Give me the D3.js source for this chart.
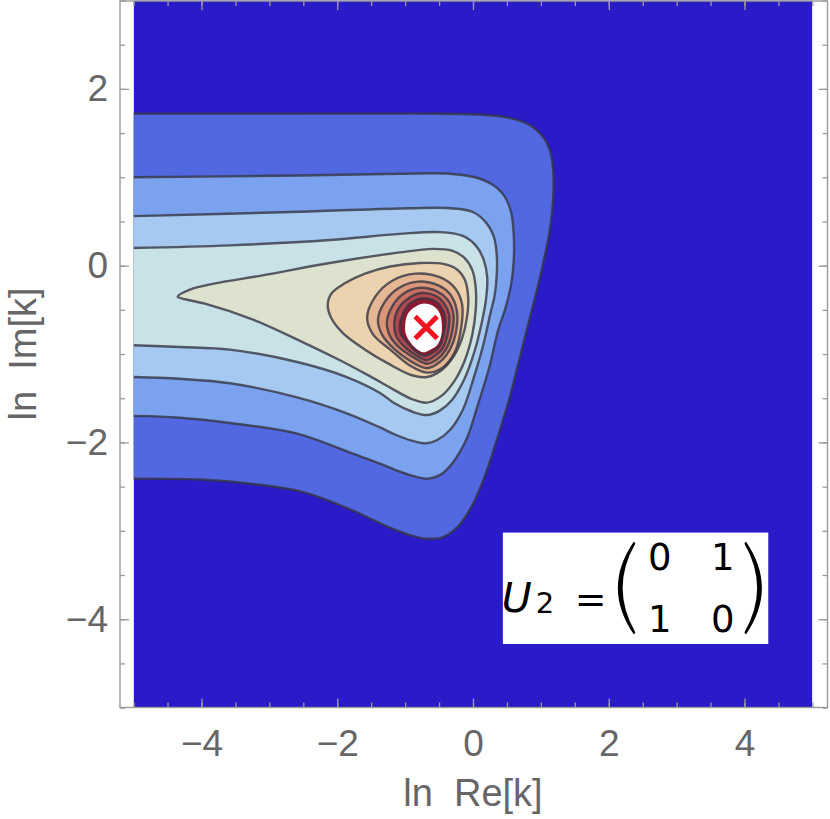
<!DOCTYPE html>
<html>
<head>
<meta charset="utf-8">
<script src="https://cdn.jsdelivr.net/npm/d3@7"></script>
<style>
  body { margin: 0; background: #fff; }
  svg { display: block; font-family: 'Liberation Sans', Arial, sans-serif; }
</style>
</head>
<body>
<svg id="chart" width="830" height="819"></svg>
<script>
// contour lines, in data units [ln Re[k], ln Im[k]]
// the four outer ones run off the left edge, the rest are closed loops
const level1 = [[-5, 1.72], [-2.55, 1.72], [-0.78, 1.72], [0.10, 1.71], [0.55, 1.67], [0.84, 1.59], [1.03, 1.46], [1.13, 1.31], [1.18, 1.09], [1.18, 0.75], [1.13, 0.40], [1.06, 0.12], [0.96, -0.22], [0.83, -0.61], [0.68, -1.07], [0.53, -1.52], [0.35, -1.97], [0.18, -2.37], [-0.01, -2.71], [-0.22, -2.95], [-0.44, -3.07], [-0.66, -3.09], [-0.88, -3.06], [-1.27, -2.95], [-1.77, -2.77], [-2.51, -2.56], [-3.24, -2.47], [-4.02, -2.42], [-5, -2.41]]
const level2 = [[-5, 1.00], [-2.55, 1.02], [-1.08, 1.04], [-0.34, 1.04], [0.03, 1.00], [0.28, 0.92], [0.46, 0.79], [0.56, 0.61], [0.60, 0.35], [0.60, 0.06], [0.56, -0.22], [0.47, -0.50], [0.37, -0.73], [0.24, -1.15], [0.07, -1.58], [-0.10, -1.97], [-0.31, -2.24], [-0.49, -2.37], [-0.66, -2.41], [-0.88, -2.38], [-1.15, -2.31], [-1.37, -2.24], [-1.86, -2.10], [-2.59, -1.90], [-3.58, -1.78], [-4.32, -1.72], [-5, -1.70]]
const level3 = [[-5, 0.56], [-2.55, 0.61], [-0.93, 0.65], [-0.34, 0.65], [-0.01, 0.61], [0.19, 0.49], [0.31, 0.32], [0.35, 0.12], [0.35, -0.10], [0.32, -0.33], [0.25, -0.56], [0.15, -0.90], [0.01, -1.27], [-0.15, -1.63], [-0.34, -1.86], [-0.52, -1.97], [-0.68, -2.01], [-0.90, -1.98], [-1.15, -1.91], [-1.37, -1.83], [-1.86, -1.67], [-2.59, -1.49], [-3.58, -1.33], [-4.32, -1.28], [-5, -1.26]]
const level4 = [[-5, 0.20], [-3.58, 0.23], [-2.11, 0.29], [-1.08, 0.36], [-0.49, 0.38], [-0.16, 0.34], [0.04, 0.23], [0.16, 0.06], [0.21, -0.14], [0.19, -0.39], [0.13, -0.64], [0.03, -0.95], [-0.12, -1.27], [-0.31, -1.52], [-0.49, -1.64], [-0.68, -1.69], [-0.90, -1.65], [-1.15, -1.56], [-1.37, -1.44], [-1.86, -1.26], [-2.59, -1.09], [-3.58, -0.95], [-4.32, -0.92], [-5, -0.90]]
const level5 = [[-4.35, -0.35], [-4.17, -0.27], [-3.80, -0.20], [-3.10, -0.11], [-2.11, 0.03], [-1.08, 0.15], [-0.59, 0.19], [-0.31, 0.17], [-0.13, 0.09], [-0.01, -0.05], [0.04, -0.25], [0.04, -0.50], [-0.01, -0.78], [-0.12, -1.07], [-0.27, -1.30], [-0.46, -1.47], [-0.68, -1.55], [-0.90, -1.51], [-1.22, -1.38], [-1.52, -1.25], [-1.96, -1.07], [-2.55, -0.85], [-3.24, -0.61], [-3.95, -0.43], [-4.24, -0.38]]
const level6 = [[-2.14, -0.44], [-2.08, -0.31], [-1.89, -0.20], [-1.59, -0.09], [-1.22, -0.01], [-0.78, 0.03], [-0.44, 0.02], [-0.24, -0.04], [-0.12, -0.16], [-0.07, -0.37], [-0.09, -0.59], [-0.16, -0.82], [-0.28, -1.02], [-0.46, -1.18], [-0.68, -1.26], [-0.90, -1.24], [-1.22, -1.12], [-1.59, -0.95], [-1.92, -0.76], [-2.09, -0.59]]
const level7 = [[-1.56, -0.59], [-1.44, -0.35], [-1.19, -0.17], [-0.85, -0.09], [-0.49, -0.13], [-0.27, -0.25], [-0.16, -0.44], [-0.18, -0.73], [-0.27, -0.98], [-0.46, -1.16], [-0.68, -1.21], [-0.93, -1.13], [-1.22, -0.95], [-1.47, -0.78]]
const level8 = [[-1.40, -0.61], [-1.30, -0.41], [-1.11, -0.26], [-0.81, -0.18], [-0.52, -0.22], [-0.34, -0.32], [-0.24, -0.50], [-0.25, -0.75], [-0.34, -0.95], [-0.49, -1.09], [-0.68, -1.16], [-0.90, -1.09], [-1.15, -0.95], [-1.34, -0.78]]
const level9 = [[-1.27, -0.64], [-1.19, -0.46], [-1.03, -0.32], [-0.78, -0.25], [-0.53, -0.29], [-0.38, -0.38], [-0.29, -0.54], [-0.31, -0.76], [-0.40, -0.95], [-0.53, -1.06], [-0.68, -1.11], [-0.87, -1.04], [-1.08, -0.93], [-1.22, -0.80]]
const level10 = [[-1.16, -0.66], [-1.11, -0.50], [-0.97, -0.38], [-0.77, -0.31], [-0.55, -0.34], [-0.43, -0.42], [-0.35, -0.56], [-0.37, -0.76], [-0.44, -0.93], [-0.56, -1.02], [-0.69, -1.07], [-0.85, -1.01], [-1.02, -0.91], [-1.13, -0.80]]
const level11 = [[-1.08, -0.68], [-1.03, -0.54], [-0.93, -0.43], [-0.75, -0.37], [-0.56, -0.40], [-0.47, -0.47], [-0.41, -0.59], [-0.43, -0.77], [-0.49, -0.91], [-0.59, -0.98], [-0.71, -1.02], [-0.84, -0.97], [-0.97, -0.87], [-1.06, -0.78]]
// region above the plot range (left white)
const clipped = [[-1.00, -0.69], [-0.97, -0.56], [-0.88, -0.48], [-0.74, -0.43], [-0.58, -0.46], [-0.49, -0.54], [-0.46, -0.66], [-0.47, -0.80], [-0.53, -0.90], [-0.63, -0.95], [-0.74, -0.98], [-0.85, -0.93], [-0.94, -0.85], [-0.99, -0.77]]

const openLevels = [level1, level2, level3, level4]
const closedLevels = [level5, level6, level7, level8, level9, level10, level11]

// band colours, outside level1 first
const bandColors = ['#2a1bc8', '#5168e0', '#7ba2ef', '#a5c9f1', '#c8e2e7', '#dde2cf', '#ead3ae', '#e6b793', '#db9679', '#cb7265', '#b3474e', '#8e1a31']

const xMajor = [-4, -2, 0, 2, 4]
const yMajor = [-4, -2, 0, 2]
const xMinor = d3.range(-5, 5.01, 0.5)
const yMinor = d3.range(-5, 3.01, 0.5)

const marker = [-0.69, -0.70]
const legendBox = [[0.44, -3.02], [4.35, -4.28]]
const matrix = [['0', '1'], ['1', '0']]

const svg = d3.select('#chart')

const x = d3.scaleLinear().domain([-5, 5]).range([133.6, 812.4])
const y = d3.scaleLinear().domain([-5, 3]).range([707.6, 0.5])

const frame = { left: 120, right: 827.5, top: 1, bottom: 707.5 }
const frameColor = '#9a9a9a'
const labelColor = '#666666'

svg.append('clipPath').attr('id', 'plot-clip')
  .append('rect')
  .attr('x', x(-5)).attr('y', y(3))
  .attr('width', x(5) - x(-5)).attr('height', y(-5) - y(3))

const plot = svg.append('g').attr('clip-path', 'url(#plot-clip)')

plot.append('rect')
  .attr('x', x(-5)).attr('y', y(3))
  .attr('width', x(5) - x(-5)).attr('height', y(-5) - y(3))
  .attr('fill', bandColors[0])

const openLine = d3.line()
  .x(d => x(d[0])).y(d => y(d[1]))
  .curve(d3.curveCatmullRom.alpha(0.5))
const closedLine = d3.line()
  .x(d => x(d[0])).y(d => y(d[1]))
  .curve(d3.curveCatmullRomClosed.alpha(0.5))

// fills, outer to inner
openLevels.forEach((pts, i) => {
  const first = pts[0]
  plot.append('path')
    .attr('d', openLine(pts) + `H${x(-5.5)}V${y(first[1])}Z`)
    .attr('fill', bandColors[i + 1])
})
closedLevels.forEach((pts, i) => {
  plot.append('path')
    .attr('d', closedLine(pts))
    .attr('fill', bandColors[i + 1 + openLevels.length])
})
plot.append('path')
  .attr('d', closedLine(clipped))
  .attr('fill', '#ffffff')

// contour strokes
const strokes = plot.append('g')
  .attr('fill', 'none')
  .attr('stroke', '#363644')
  .attr('stroke-opacity', 0.8)
  .attr('stroke-width', 2.4)
openLevels.forEach(pts => strokes.append('path').attr('d', openLine(pts)))
closedLevels.forEach(pts => strokes.append('path').attr('d', closedLine(pts)))

// red cross at the marked point
const cx = x(marker[0]), cy = y(marker[1]), r = 11
plot.append('path')
  .attr('d', `M${cx - r},${cy - r}L${cx + r},${cy + r}M${cx - r},${cy + r}L${cx + r},${cy - r}`)
  .attr('stroke', '#f01420')
  .attr('stroke-width', 5)

// legend box with the matrix
const lx = x(legendBox[0][0]), ly = y(legendBox[0][1])
const lw = x(legendBox[1][0]) - lx, lh = y(legendBox[1][1]) - ly
const legend = svg.append('g')
  .attr('transform', `translate(${lx},${ly})`)
  .attr('font-family', "'DejaVu Sans', sans-serif")
legend.append('rect').attr('width', lw).attr('height', lh).attr('fill', '#fff')
legend.append('text').attr('x', -1).attr('y', 79)
  .attr('font-size', 41).attr('font-style', 'italic').text('U')
legend.append('text').attr('x', 33).attr('y', 80)
  .attr('font-size', 29).text('2')
legend.append('text').attr('x', 72).attr('y', 79)
  .attr('font-size', 38).text('=')
legend.append('path')
  .attr('d', 'M131,9Q99,55.5 131,102L132.5,100Q107,55.5 132.5,11Z')
legend.append('path')
  .attr('d', 'M243,9Q275,55.5 243,102L241.5,100Q267,55.5 241.5,11Z')
matrix.forEach((row, ri) => row.forEach((v, ci) => {
  legend.append('text')
    .attr('x', 157 + ci * 63).attr('y', 37 + ri * 62)
    .attr('text-anchor', 'middle')
    .attr('font-size', 37)
    .text(v)
}))

// frame
svg.append('rect')
  .attr('x', frame.left).attr('y', frame.top)
  .attr('width', frame.right - frame.left).attr('height', frame.bottom - frame.top)
  .attr('fill', 'none').attr('stroke', frameColor).attr('stroke-width', 1.4)

const fmt = d => d < 0 ? '\u2212' + (-d) : String(d)

function styleAxis(g) {
  g.select('.domain').remove()
  g.selectAll('.tick line').attr('stroke', frameColor).attr('stroke-width', 1.3)
  g.selectAll('.tick text').attr('fill', labelColor)
}

// minor ticks on all four sides
svg.append('g').attr('transform', `translate(0,${frame.bottom})`)
  .call(d3.axisBottom(x).tickValues(xMinor).tickSize(-5).tickFormat(''))
  .call(styleAxis)
svg.append('g').attr('transform', `translate(0,${frame.top})`)
  .call(d3.axisTop(x).tickValues(xMinor).tickSize(-5).tickFormat(''))
  .call(styleAxis)
svg.append('g').attr('transform', `translate(${frame.left},0)`)
  .call(d3.axisLeft(y).tickValues(yMinor).tickSize(-5).tickFormat(''))
  .call(styleAxis)
svg.append('g').attr('transform', `translate(${frame.right},0)`)
  .call(d3.axisRight(y).tickValues(yMinor).tickSize(-5).tickFormat(''))
  .call(styleAxis)

// major ticks
svg.append('g').attr('transform', `translate(0,${frame.bottom})`)
  .call(d3.axisBottom(x).tickValues(xMajor).tickSize(-9).tickPadding(22).tickFormat(fmt))
  .attr('font-size', 37).attr('font-family', null)
  .call(styleAxis)
svg.append('g').attr('transform', `translate(0,${frame.top})`)
  .call(d3.axisTop(x).tickValues(xMajor).tickSize(-9).tickFormat(''))
  .call(styleAxis)
svg.append('g').attr('transform', `translate(${frame.left},0)`)
  .call(d3.axisLeft(y).tickValues(yMajor).tickSize(-9).tickPadding(12).tickFormat(fmt))
  .attr('font-size', 37).attr('font-family', null)
  .call(styleAxis)
svg.append('g').attr('transform', `translate(${frame.right},0)`)
  .call(d3.axisRight(y).tickValues(yMajor).tickSize(-9).tickFormat(''))
  .call(styleAxis)

// axis titles
svg.append('text')
  .attr('x', 473).attr('y', 806)
  .attr('text-anchor', 'middle')
  .attr('font-size', 38).attr('fill', labelColor)
  .style('white-space', 'pre')
  .text('ln  Re[k]')
svg.append('text')
  .attr('transform', 'translate(36,354) rotate(-90)')
  .attr('text-anchor', 'middle')
  .attr('font-size', 38).attr('fill', labelColor)
  .style('white-space', 'pre')
  .text('ln  Im[k]')
</script>
</body>
</html>
